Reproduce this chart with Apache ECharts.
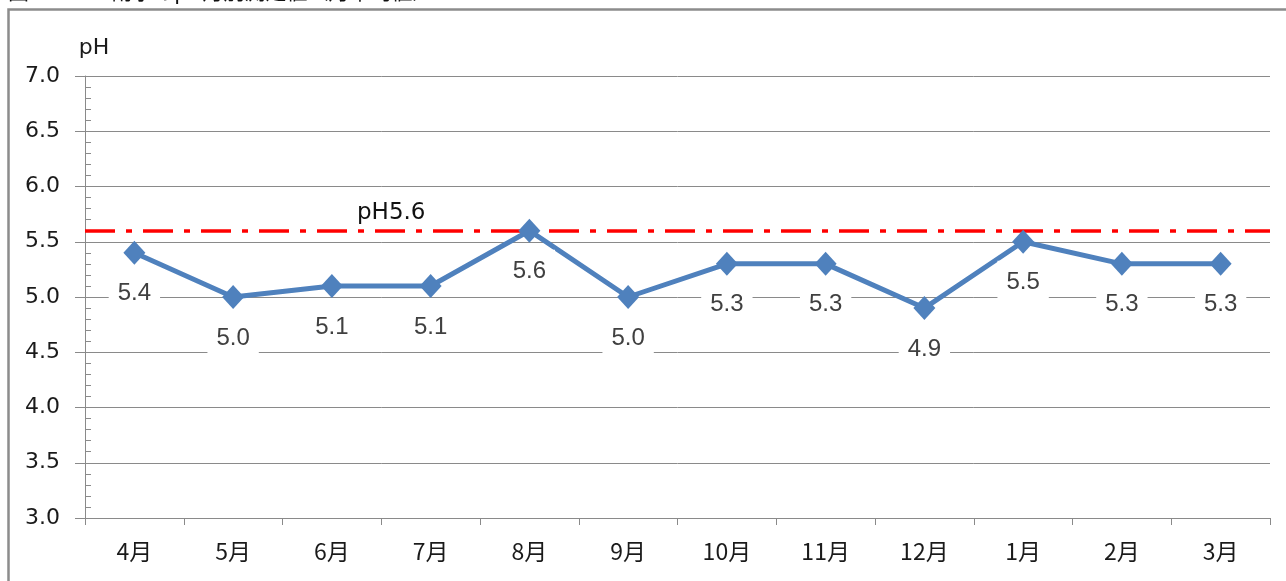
<!DOCTYPE html>
<html>
<head>
<meta charset="utf-8">
<script src="https://cdn.jsdelivr.net/npm/echarts@6/dist/echarts.min.js"></script>
<style>
  html, body { margin: 0; padding: 0; background: #fff; }
  #chart { width: 1286px; height: 581px; }
</style>
</head>
<body>
<div id="chart"></div>
<script>
// Monthly mean pH of rainwater
const months = ['4月', '5月', '6月', '7月', '8月', '9月', '10月', '11月', '12月', '1月', '2月', '3月'];
const phValues = [5.4, 5.0, 5.1, 5.1, 5.6, 5.0, 5.3, 5.3, 4.9, 5.5, 5.3, 5.3];
const referencePH = 5.6;
const titleText = '図1-1-10　雨水のpH月別測定値（月平均値）';

const gridColor = '#8a8a8a';
const yRange = { min: 3, max: 7, interval: 0.5 };

const chart = echarts.init(document.getElementById('chart'), null, { renderer: 'canvas' });

chart.setOption({
  backgroundColor: '#ffffff',
  animation: false,
  graphic: [
    {
      type: 'text',
      left: 8,
      top: -19,
      silent: true,
      style: {
        text: titleText,
        fontSize: 21,
        fontFamily: 'Noto Sans CJK JP',
        fill: '#111'
      }
    },
    {
      type: 'rect',
      silent: true,
      shape: { x: 8.5, y: 9.5, width: 1400, height: 700 },
      style: { fill: 'none', stroke: '#8c8c8c', lineWidth: 2.5 }
    }
  ],
  grid: { left: 85, right: 16, top: 76, bottom: 63, containLabel: false },
  xAxis: {
    type: 'category',
    data: months,
    boundaryGap: true,
    axisLine: { show: true, lineStyle: { color: gridColor, width: 1 } },
    axisTick: { show: true, alignWithLabel: false, length: 7, lineStyle: { color: gridColor } },
    axisLabel: {
      margin: 22,
      fontSize: 23,
      fontFamily: 'Noto Sans CJK JP',
      color: '#1a1a1a'
    },
    splitLine: { show: false }
  },
  yAxis: [
    {
      type: 'value',
      min: yRange.min,
      max: yRange.max,
      interval: yRange.interval,
      name: 'pH',
      nameLocation: 'end',
      nameGap: 17,
      nameTextStyle: {
        fontSize: 22,
        fontFamily: 'DejaVu Sans',
        color: '#1a1a1a',
        padding: [0, 0, 0, 18]
      },
      axisLine: { show: true, lineStyle: { color: gridColor, width: 1 } },
      axisTick: { show: true, inside: false, length: 10, lineStyle: { color: gridColor } },
      axisLabel: {
        margin: 25,
        fontSize: 22,
        fontFamily: 'DejaVu Sans',
        color: '#1a1a1a',
        formatter: v => v.toFixed(1)
      },
      splitLine: { show: true, lineStyle: { color: gridColor, width: 1 } }
    },
    {
      // companion axis carrying the small inward minor ticks
      type: 'value',
      position: 'left',
      min: yRange.min,
      max: yRange.max,
      interval: yRange.interval,
      axisLine: { show: false },
      axisTick: { show: false, inside: true },
      minorTick: { show: true, splitNumber: 5, length: 6, lineStyle: { color: gridColor, width: 1 } },
      axisLabel: { show: false },
      splitLine: { show: false }
    }
  ],
  series: [
    {
      type: 'line',
      data: phValues,
      yAxisIndex: 0,
      symbol: 'diamond',
      symbolSize: [22, 24],
      lineStyle: { color: '#4F81BD', width: 5 },
      itemStyle: { color: '#4F81BD' },
      z: 3,
      label: {
        show: true,
        position: 'bottom',
        distance: 7,
        formatter: p => p.value.toFixed(1),
        fontSize: 24,
        lineHeight: 24,
        fontFamily: "'Liberation Sans Narrow', 'Liberation Sans', sans-serif",
        color: '#404040',
        backgroundColor: '#ffffff',
        padding: [10, 9]
      },
      markLine: {
        silent: true,
        symbol: 'none',
        z: 2,
        lineStyle: { color: '#FF0000', width: 3.5, type: [30, 11, 6, 11] },
        label: {
          show: true,
          position: 'insideStartTop',
          formatter: p => 'pH' + p.value.toFixed(1),
          fontSize: 23,
          fontFamily: 'DejaVu Sans',
          color: '#111',
          distance: 6,
          padding: [0, 0, 0, 266]
        },
        data: [{ yAxis: referencePH }]
      }
    }
  ]
});
</script>
</body>
</html>
